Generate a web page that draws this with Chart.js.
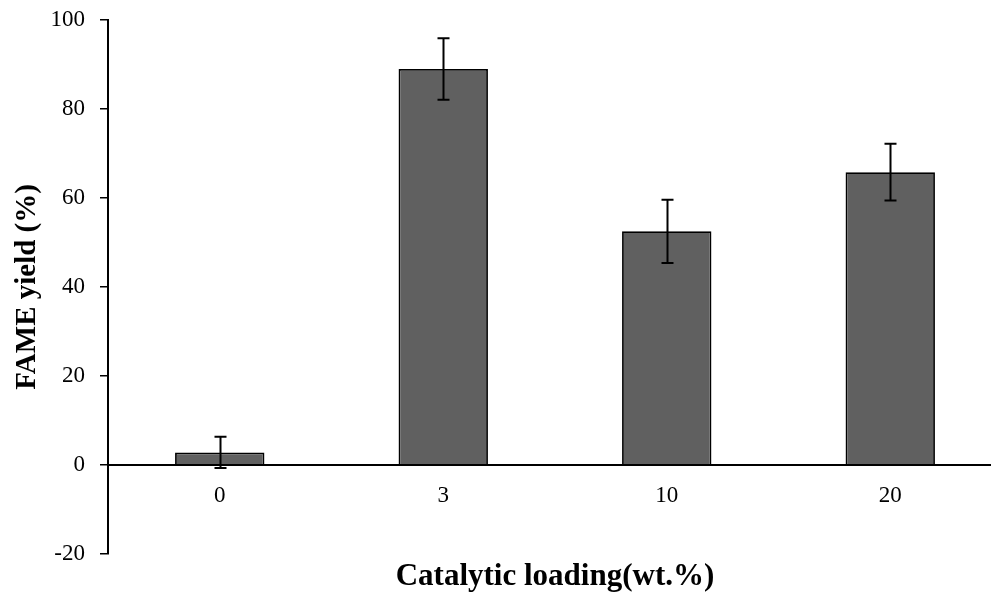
<!DOCTYPE html>
<html>
<head>
<meta charset="utf-8">
<script src="https://cdn.jsdelivr.net/npm/chart.js@4/dist/chart.umd.min.js"></script>
<style>
  html, body { margin: 0; padding: 0; background: #fff; overflow: hidden; }
  #wrap { width: 1002px; height: 598px; }
</style>
</head>
<body>
<div id="wrap"><canvas id="c" width="1002" height="598"></canvas></div>
<script>
// Catalyst loading (wt.%) vs FAME yield (%), mean ± error
const categories = ['0', '3', '10', '20'];
const yieldValues = [2.8, 89.0, 52.5, 65.8];
const yieldErrors = [3.5, 6.9, 7.1, 6.4];
const yTicks = [-20, 0, 20, 40, 60, 80, 100];

const FONT = "'Liberation Serif', 'Times New Roman', serif";

// Draws symmetric error bars with caps on top of each bar
const errorBars = {
  id: 'errorBars',
  afterDatasetsDraw(chart) {
    const yScale = chart.scales.y;
    const meta = chart.getDatasetMeta(0);
    const ctx = chart.ctx;
    ctx.save();
    ctx.strokeStyle = '#000';
    ctx.lineWidth = 2;
    meta.data.forEach((bar, i) => {
      const v = yieldValues[i], e = yieldErrors[i];
      const x = Math.round(bar.x) + 0.5;
      const yTop = yScale.getPixelForValue(v + e);
      const yBot = yScale.getPixelForValue(v - e);
      const cap = 6;
      ctx.beginPath();
      ctx.moveTo(x, yTop); ctx.lineTo(x, yBot);
      ctx.moveTo(x - cap, yTop); ctx.lineTo(x + cap, yTop);
      ctx.moveTo(x - cap, yBot); ctx.lineTo(x + cap, yBot);
      ctx.stroke();
    });
    ctx.restore();
  }
};

new Chart(document.getElementById('c'), {
  type: 'bar',
  data: {
    labels: categories,
    datasets: [{
      data: yieldValues,
      backgroundColor: 'rgb(96,96,96)',
      borderColor: '#000',
      borderWidth: 1.8,
      barPercentage: 0.4,
      categoryPercentage: 1.0
    }]
  },
  options: {
    responsive: false,
    animation: false,
    devicePixelRatio: 1,
    layout: { padding: { top: 20, right: 0, bottom: 0, left: 0 } },
    plugins: {
      legend: { display: false },
      tooltip: { enabled: false },
      title: {
        display: true,
        position: 'bottom',
        fullSize: false,
        text: 'Catalytic loading(wt.%)',
        color: '#000',
        font: { family: FONT, size: 31, weight: 'bold' },
        padding: { top: 5, bottom: 2 }
      }
    },
    scales: {
      x: {
        position: { y: 0 },
        grid: { display: false, drawTicks: false },
        border: { display: true, color: '#000', width: 2 },
        ticks: {
          color: '#000',
          padding: 17,
          font: { family: FONT, size: 23 }
        },
        afterFit(scale) {
          scale.height = 0;
          scale.paddingLeft = 0;
          scale.paddingRight = 0;
        }
      },
      y: {
        min: -20,
        max: 100,
        afterBuildTicks(scale) { scale.ticks = yTicks.map(v => ({ value: v })); },
        grid: {
          display: true,
          drawOnChartArea: false,
          drawTicks: true,
          tickLength: 8,
          color: '#000',
          lineWidth: 1.5
        },
        border: { display: true, color: '#000', width: 2 },
        ticks: {
          color: '#000',
          padding: 15,
          font: { family: FONT, size: 23 }
        },
        title: {
          display: true,
          text: 'FAME yield (%)',
          color: '#000',
          font: { family: FONT, size: 29, weight: 'bold' },
          padding: { top: 10, bottom: 0 }
        },
        afterFit(scale) {
          scale.width = 108;
          scale.paddingTop = 0;
          scale.paddingBottom = 0;
        }
      }
    }
  },
  plugins: [errorBars]
});
</script>
</body>
</html>
